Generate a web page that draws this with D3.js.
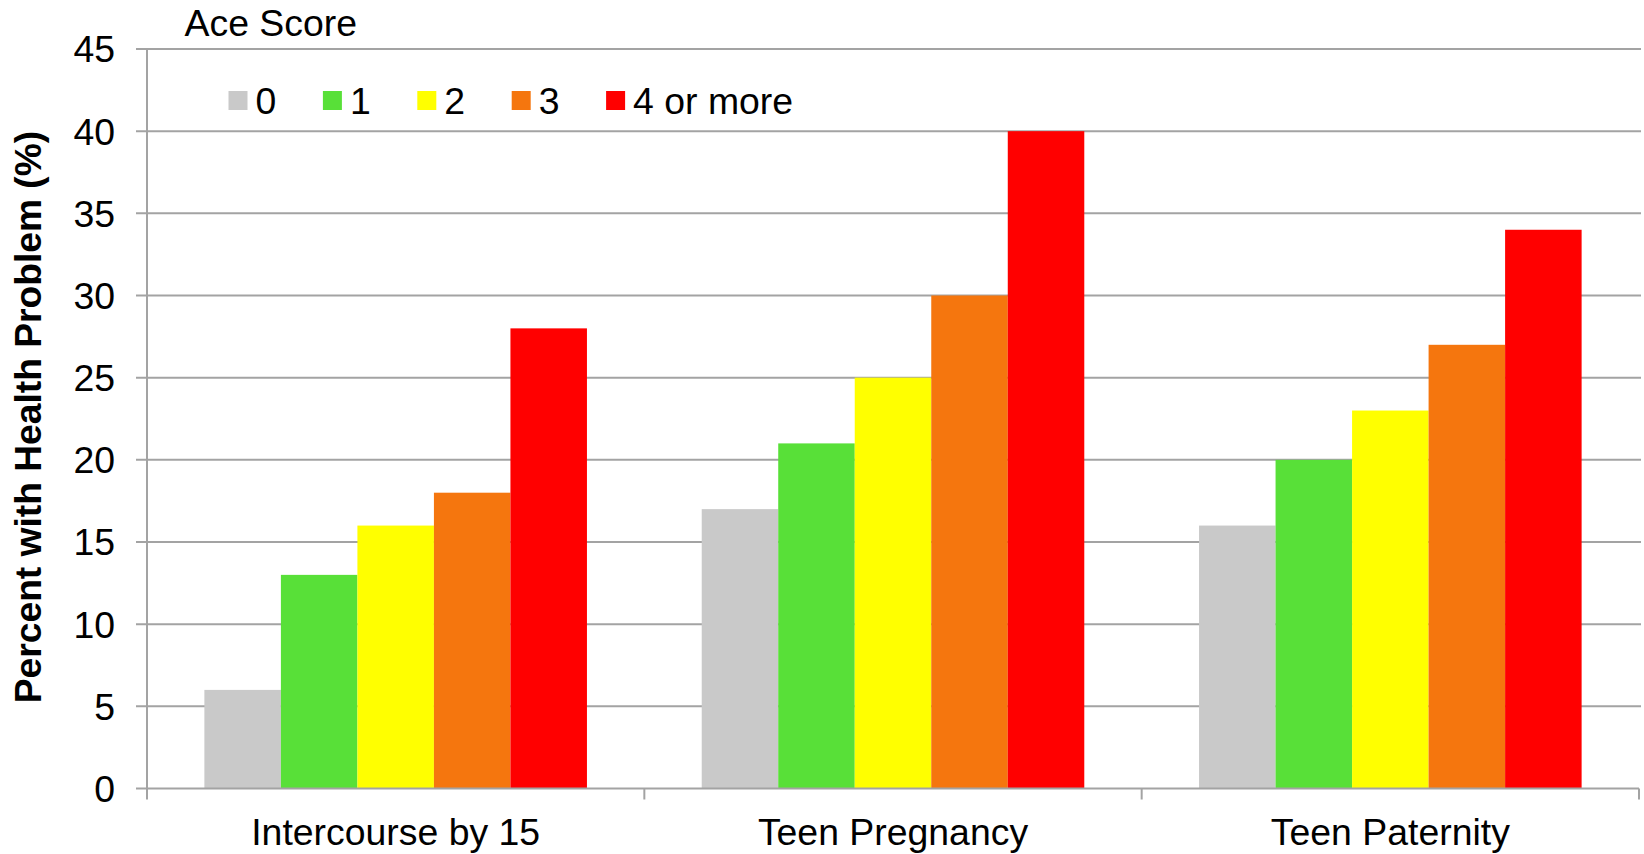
<!DOCTYPE html>
<html>
<head>
<meta charset="utf-8">
<script src="https://cdn.jsdelivr.net/npm/d3@7"></script>
<style>
  html, body { margin: 0; padding: 0; background: #fff; }
  svg { display: block; font-family: "Liberation Sans", Arial, sans-serif; }
</style>
</head>
<body>
<svg id="chart" width="1644" height="854"></svg>
<script>
// Outcomes by ACE score
const categories = ["Intercourse by 15", "Teen Pregnancy", "Teen Paternity"];
const aceScores = ["0", "1", "2", "3", "4 or more"];
const values0 = [6, 17, 16];
const values1 = [13, 21, 20];
const values2 = [16, 25, 23];
const values3 = [18, 30, 27];
const values4 = [28, 40, 34];
const seriesValues = [values0, values1, values2, values3, values4];
const yTicks = [0, 5, 10, 15, 20, 25, 30, 35, 40, 45];
const colors = ["#c9c9c9", "#58e038", "#ffff00", "#f5760e", "#ff0000"];

const svg = d3.select("#chart");
const W = 1644, H = 854;
const m = { left: 147, right: 5, top: 49, bottom: 65.5 };
const plotW = 1639 - m.left;
const plotH = H - m.top - m.bottom;
const grid = "#a3a3a3";
const fs = 37.4;

const g = svg.append("g").attr("transform", `translate(${m.left},${m.top})`);

const y = d3.scaleLinear().domain([0, 45]).range([plotH, 0]);
const x0 = d3.scaleBand().domain(categories).range([0, plotW]).padding(0);
const x1 = d3.scaleBand().domain(aceScores).range([0, x0.bandwidth()])
  .paddingInner(0).paddingOuter(0.75);

// horizontal gridlines with outward ticks
g.append("g").selectAll("line").data(yTicks.filter(t => t > 0)).join("line")
  .attr("x1", -11).attr("x2", W - m.left - 3)
  .attr("y1", d => y(d)).attr("y2", d => y(d))
  .attr("stroke", grid).attr("stroke-width", 2);

// bars
const rows = categories.map((c, i) => ({ cat: c, vals: aceScores.map((s, j) => ({ s, j, v: seriesValues[j][i] })) }));
g.append("g").selectAll("g").data(rows).join("g")
  .attr("transform", d => `translate(${x0(d.cat)},0)`)
  .selectAll("rect").data(d => d.vals).join("rect")
  .attr("x", d => x1(d.s))
  .attr("width", x1.bandwidth())
  .attr("y", d => y(d.v))
  .attr("height", d => y(0) - y(d.v))
  .attr("fill", d => colors[d.j]);

// axes lines
g.append("line").attr("x1", 0).attr("x2", 0).attr("y1", 0).attr("y2", plotH)
  .attr("stroke", grid).attr("stroke-width", 2);
g.append("line").attr("x1", -11).attr("x2", plotW).attr("y1", plotH).attr("y2", plotH)
  .attr("stroke", grid).attr("stroke-width", 2);
// category boundary ticks
const bounds = categories.map(c => x0(c)).concat([plotW]);
g.append("g").selectAll("line").data(bounds).join("line")
  .attr("x1", d => d).attr("x2", d => d)
  .attr("y1", plotH).attr("y2", plotH + 11)
  .attr("stroke", grid).attr("stroke-width", 2);

// y tick labels
g.append("g").selectAll("text").data(yTicks).join("text")
  .attr("x", -32).attr("y", d => y(d))
  .attr("dy", "0.36em")
  .attr("text-anchor", "end")
  .attr("font-size", fs)
  .attr("fill", "#000")
  .text(d => d);

// category labels
g.append("g").selectAll("text").data(categories).join("text")
  .attr("x", d => x0(d) + x0.bandwidth() / 2)
  .attr("y", plotH + 56.5)
  .attr("text-anchor", "middle")
  .attr("font-size", fs)
  .text(d => d);

// y axis title
svg.append("text")
  .attr("transform", `translate(41,${417}) rotate(-90)`)
  .attr("text-anchor", "middle")
  .attr("font-size", 37.2)
  .attr("font-weight", "bold")
  .text("Percent with Health Problem (%)");

// legend
svg.append("text").attr("x", 184.5).attr("y", 36).attr("font-size", fs).text("Ace Score");
const leg = svg.append("g").selectAll("g").data(aceScores).join("g")
  .attr("transform", (d, i) => `translate(${228.5 + i * 94.4},${91})`);
leg.append("rect").attr("width", 19).attr("height", 19).attr("fill", (d, i) => colors[i]);
leg.append("text").attr("x", 27).attr("y", 9.5).attr("dy", "0.36em")
  .attr("font-size", fs).text(d => d);
</script>
</body>
</html>
